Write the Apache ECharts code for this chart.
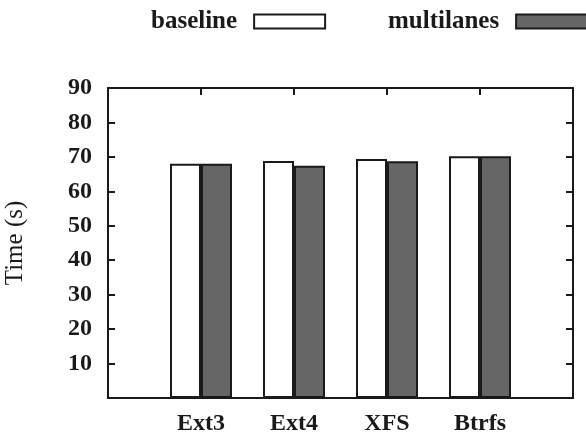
<!DOCTYPE html>
<html>
<head>
<meta charset="utf-8">
<style>html,body{margin:0;padding:0;background:#fff}#c{width:586px;height:436px}</style>
<script src="https://cdn.jsdelivr.net/npm/echarts@6/dist/echarts.min.js"></script>
</head>
<body>
<div id="c"></div>
<script>
const categories = ['Ext3', 'Ext4', 'XFS', 'Btrfs'];
const baseline = [68.0, 68.8, 69.4, 70.2];
const multilanes = [68.0, 67.4, 68.7, 70.2];
const yTicks = [0, 10, 20, 30, 40, 50, 60, 70, 80, 90];

const FONT = '"Liberation Serif", "DejaVu Serif", serif';
const INK = '#1a1a1a';
const chart = echarts.init(document.getElementById('c'), null, {renderer: 'canvas'});
const axisLine = {show: true, onZero: false, lineStyle: {color: INK, width: 2}};
const tickIn = {show: true, inside: true, length: 7, lineStyle: {color: INK, width: 2}};
const legendText = {fontFamily: FONT, fontSize: 25, fontWeight: 'bold', color: INK, padding: [0, 12, 0, 0]};

chart.setOption({
  animation: false,
  backgroundColor: '#fff',
  legend: [{
    left: 146, top: 4, align: 'right',
    itemWidth: 71, itemHeight: 14, icon: 'rect',
    textStyle: legendText,
    data: [{name: 'baseline', itemStyle: {color: '#fff', borderColor: INK, borderWidth: 2}}]
  }, {
    left: 383, top: 4, align: 'right',
    itemWidth: 71, itemHeight: 14, icon: 'rect',
    textStyle: legendText,
    data: [{name: 'multilanes', itemStyle: {color: '#666', borderColor: INK, borderWidth: 2}}]
  }],
  grid: {left: 108, right: 13, top: 88, bottom: 38, outerBoundsMode: 'none', containLabel: false},
  xAxis: [{
    type: 'value', min: 0, max: categories.length + 1, interval: 1,
    axisLine: axisLine, axisTick: tickIn, splitLine: {show: false},
    axisLabel: {
      margin: 14, fontFamily: FONT, fontSize: 24, fontWeight: 'bold', color: INK,
      formatter: v => categories[v - 1] || ''
    }
  }, {
    type: 'value', position: 'top', min: 0, max: categories.length + 1, interval: 1,
    axisLine: axisLine, axisTick: tickIn, splitLine: {show: false}, axisLabel: {show: false}
  }],
  yAxis: [{
    type: 'value', min: yTicks[0], max: yTicks[yTicks.length - 1], interval: 10,
    name: 'Time (s)', nameLocation: 'middle', nameGap: 80,
    nameTextStyle: {fontFamily: FONT, fontSize: 25, color: INK},
    axisLine: axisLine, axisTick: tickIn, splitLine: {show: false},
    axisLabel: {
      margin: 16, fontFamily: FONT, fontSize: 24, fontWeight: 'bold', color: INK,
      formatter: v => v === 0 ? '' : String(v)
    }
  }, {
    type: 'value', position: 'right', min: yTicks[0], max: yTicks[yTicks.length - 1], interval: 10,
    axisLine: axisLine, axisTick: tickIn, splitLine: {show: false}, axisLabel: {show: false}
  }],
  series: [{
    name: 'baseline', type: 'bar', barWidth: 31, barGap: '0%',
    itemStyle: {color: '#fff', borderColor: INK, borderWidth: 2},
    data: categories.map((c, i) => [i + 1, baseline[i]])
  }, {
    name: 'multilanes', type: 'bar', barWidth: 31, barGap: '0%',
    itemStyle: {color: '#666', borderColor: INK, borderWidth: 2},
    data: categories.map((c, i) => [i + 1, multilanes[i]])
  }]
});
</script>
</body>
</html>
